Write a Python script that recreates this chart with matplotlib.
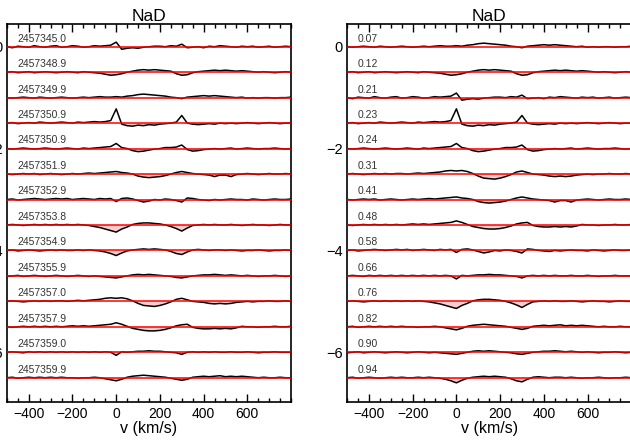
import numpy as np
import matplotlib
matplotlib.use("Agg")
import matplotlib.pyplot as plt
from matplotlib.ticker import MultipleLocator

plt.rcParams["font.family"] = ["Liberation Sans", "DejaVu Sans"]

# velocity grid (km/s), shared by every spectrum
velocity = list(range(-500, 801, 25))

# residual NaD profiles, one per night (0.5 apart in the figure)
s_345_0 = [0.00, -0.02, 0.01, 0.00, -0.01, 0.02, 0.00, -0.01, 0.01, 0.02,
           -0.01, 0.00, 0.02, 0.01, -0.01, 0.00, 0.02, 0.01, 0.02, 0.03,
           0.09, -0.05, -0.03, -0.02, -0.03, -0.01, 0.00, 0.01, 0.01, 0.00,
           0.02, 0.01, 0.05, -0.02, -0.01, 0.00, -0.02, 0.01, 0.00, 0.02,
           0.01, 0.00, -0.01, 0.01, 0.00, 0.01, -0.01, 0.00, 0.01, -0.01,
           0.00, 0.01, 0.00]
s_348_9 = [0.00, 0.01, -0.01, 0.00, 0.01, -0.01, 0.00, 0.01, 0.00, -0.01,
           0.00, 0.01, 0.00, -0.01, 0.01, 0.00, -0.01, -0.02, -0.04, -0.06,
           -0.05, -0.03, 0.00, 0.02, 0.04, 0.05, 0.04, 0.05, 0.04, 0.03,
           0.02, -0.03, -0.06, -0.05, -0.01, 0.01, 0.02, 0.03, 0.04, 0.03,
           0.04, 0.03, 0.02, 0.03, 0.02, 0.01, 0.00, 0.01, 0.00, -0.01,
           0.00, 0.01, 0.00]
s_349_9 = [0.00, -0.01, 0.00, 0.01, 0.00, -0.01, 0.01, 0.00, -0.01, 0.00,
           0.01, 0.00, -0.01, 0.00, 0.01, 0.00, 0.01, 0.02, 0.01, 0.01,
           0.02, 0.01, 0.03, 0.04, 0.06, 0.07, 0.06, 0.05, 0.04, 0.03,
           0.01, 0.00, -0.02, 0.01, 0.02, 0.03, 0.04, 0.03, 0.04, 0.03,
           0.02, 0.01, 0.00, 0.01, -0.01, 0.00, -0.01, 0.00, 0.00, -0.01,
           0.00, 0.00, 0.01]
s_350_9a = [0.00, 0.01, -0.01, 0.00, 0.01, 0.00, 0.02, 0.01, 0.00, 0.01,
            0.02, 0.01, 0.00, 0.02, 0.01, 0.02, 0.03, 0.02, 0.03, 0.05,
            0.28, -0.02, -0.05, -0.06, -0.04, -0.05, -0.03, -0.04, -0.02, -0.01,
            0.00, 0.02, 0.15, 0.00, -0.02, -0.03, -0.02, -0.01, -0.02, 0.00,
            -0.01, 0.00, -0.01, 0.00, 0.01, 0.00, -0.01, 0.00, 0.01, 0.00,
            -0.01, 0.00, 0.00]
s_350_9b = [0.00, -0.01, 0.00, 0.01, 0.00, -0.01, 0.00, 0.01, 0.00, -0.01,
            0.00, 0.01, 0.00, -0.01, 0.01, 0.00, 0.01, 0.02, 0.03, 0.04,
            0.10, 0.02, 0.00, -0.04, -0.06, -0.05, -0.03, -0.01, 0.00, 0.02,
            0.02, 0.03, 0.07, -0.02, -0.05, -0.04, -0.02, -0.01, 0.00, -0.01,
            0.00, 0.01, -0.01, 0.00, 0.01, 0.00, -0.01, 0.00, 0.00, 0.01,
            0.00, -0.01, 0.00]
s_351_9 = [0.00, -0.01, 0.00, 0.01, 0.00, 0.01, -0.01, 0.00, 0.01, 0.00,
           -0.01, 0.00, 0.01, 0.00, 0.01, 0.02, 0.01, 0.02, 0.03, 0.04,
           0.05, 0.03, 0.02, 0.00, -0.04, -0.06, -0.07, -0.06, -0.05, -0.03,
           0.00, 0.03, 0.05, 0.03, 0.01, 0.00, -0.01, -0.02, -0.05, -0.02,
           -0.02, -0.05, -0.01, 0.00, 0.01, 0.00, -0.01, 0.00, 0.01, 0.00,
           0.00, 0.01, 0.00]
s_352_9 = [0.00, 0.01, -0.01, 0.00, 0.01, 0.02, 0.01, 0.00, 0.01, 0.02,
           0.01, 0.02, 0.00, 0.01, 0.02, 0.01, 0.00, 0.02, 0.01, 0.02,
           -0.04, 0.02, 0.03, 0.01, -0.02, -0.05, -0.03, 0.00, -0.01, 0.01,
           0.00, -0.02, -0.05, 0.03, 0.02, 0.00, -0.01, -0.02, 0.00, -0.01,
           0.00, 0.01, 0.00, 0.00, -0.01, 0.01, 0.00, -0.01, 0.00, 0.01,
           0.00, 0.00, 0.01]
s_353_8 = [0.00, 0.01, 0.00, -0.01, 0.00, 0.01, 0.00, 0.01, 0.00, 0.01,
           0.00, 0.01, 0.00, 0.01, 0.00, -0.01, -0.03, -0.05, -0.08, -0.11,
           -0.14, -0.08, -0.04, 0.01, 0.03, 0.04, 0.04, 0.03, 0.02, 0.00,
           -0.03, -0.07, -0.12, -0.06, -0.01, 0.00, 0.01, 0.00, 0.01, 0.00,
           0.00, 0.01, 0.00, -0.01, 0.00, 0.01, 0.00, 0.00, -0.01, 0.00,
           0.01, 0.00, 0.00]
s_354_9 = [0.00, 0.01, -0.01, 0.00, 0.01, 0.00, -0.01, 0.00, 0.01, 0.00,
           0.01, 0.00, 0.00, 0.01, 0.00, 0.01, 0.00, -0.01, -0.03, -0.06,
           -0.10, -0.05, -0.01, 0.01, 0.02, 0.03, 0.02, 0.03, 0.02, 0.01,
           -0.02, -0.06, -0.08, -0.03, 0.01, 0.02, 0.01, 0.00, 0.01, 0.01,
           0.00, 0.01, 0.00, -0.01, 0.00, 0.00, 0.01, 0.00, -0.01, 0.00,
           0.00, 0.01, 0.00]
s_355_9 = [-0.01, 0.00, 0.01, -0.01, 0.00, 0.01, 0.00, -0.01, 0.00, 0.01,
           0.00, -0.01, 0.00, 0.01, 0.00, -0.01, 0.00, -0.01, -0.02, -0.03,
           -0.04, -0.02, 0.00, 0.02, 0.03, 0.02, 0.03, 0.02, 0.01, 0.00,
           -0.01, -0.03, -0.04, -0.02, 0.00, 0.01, 0.02, 0.02, 0.03, 0.02,
           0.01, 0.02, 0.01, 0.00, 0.01, 0.00, -0.01, 0.00, 0.00, 0.01,
           0.00, -0.01, 0.00]
s_357_0 = [0.00, 0.01, 0.00, -0.01, 0.00, 0.01, 0.00, 0.01, 0.00, 0.01,
           0.01, 0.00, 0.01, 0.02, 0.01, 0.02, 0.03, 0.04, 0.06, 0.07,
           0.06, 0.07, 0.05, 0.01, -0.04, -0.08, -0.09, -0.10, -0.08, -0.05,
           -0.01, 0.04, 0.06, 0.03, 0.00, -0.01, -0.02, -0.04, -0.05, -0.04,
           -0.05, -0.04, -0.02, -0.01, 0.00, -0.01, 0.00, 0.00, 0.01, 0.00,
           0.00, 0.01, 0.00]
s_357_9 = [0.00, -0.01, 0.00, 0.01, 0.00, 0.01, 0.00, 0.01, 0.00, 0.01,
           0.00, 0.01, 0.02, 0.01, 0.02, 0.01, 0.02, 0.03, 0.04, 0.05,
           0.08, 0.05, 0.01, -0.03, -0.05, -0.07, -0.08, -0.08, -0.07, -0.05,
           -0.02, 0.02, 0.04, 0.05, -0.01, -0.03, -0.04, -0.04, -0.03, -0.04,
           -0.03, -0.04, -0.02, 0.01, 0.00, 0.00, -0.01, 0.00, 0.00, 0.01,
           0.00, 0.00, 0.01]
s_359_0 = [0.00, 0.01, 0.00, -0.01, 0.01, 0.00, 0.01, 0.00, 0.01, 0.00,
           0.01, 0.00, 0.01, 0.00, 0.01, 0.00, 0.01, 0.00, 0.01, 0.00,
           -0.06, 0.01, 0.00, 0.01, 0.02, 0.02, 0.03, 0.02, 0.02, 0.01,
           0.00, -0.01, -0.04, 0.00, 0.01, 0.00, 0.01, 0.00, 0.01, 0.00,
           0.00, 0.01, 0.00, 0.00, 0.01, 0.00, -0.01, 0.00, 0.00, 0.01,
           0.00, 0.00, 0.00]
s_359_9 = [0.00, 0.01, -0.01, 0.00, 0.01, 0.00, 0.01, 0.00, 0.01, 0.00,
           0.01, 0.00, 0.00, -0.01, 0.00, 0.00, 0.01, 0.00, -0.02, -0.04,
           -0.06, -0.03, 0.01, 0.03, 0.04, 0.05, 0.04, 0.03, 0.02, 0.01,
           -0.01, -0.03, -0.05, -0.03, 0.01, 0.02, 0.03, 0.02, 0.03, 0.04,
           0.02, 0.03, 0.02, 0.03, 0.02, 0.01, 0.00, 0.01, 0.00, 0.00,
           0.01, 0.00, 0.00]

spectra = [s_345_0, s_348_9, s_349_9, s_350_9a, s_350_9b, s_351_9, s_352_9,
           s_353_8, s_354_9, s_355_9, s_357_0, s_357_9, s_359_0, s_359_9]

dates = ["2457345.0", "2457348.9", "2457349.9", "2457350.9", "2457350.9",
         "2457351.9", "2457352.9", "2457353.8", "2457354.9", "2457355.9",
         "2457357.0", "2457357.9", "2457359.0", "2457359.9"]

# right panel: same spectra sorted by phase
phase_order = [2, 1, 0, 3, 4, 10, 5, 11, 6, 12, 7, 13, 9, 8]
phases = ["0.07", "0.12", "0.21", "0.23", "0.24", "0.31", "0.41", "0.48",
          "0.58", "0.66", "0.76", "0.82", "0.90", "0.94"]

step = 0.5

fig = plt.figure(figsize=(6.3, 4.41), dpi=100)
ax1 = fig.add_axes([0.011, 0.088, 0.451, 0.858])
ax2 = fig.add_axes([0.551, 0.088, 0.451, 0.858])

v = np.array(velocity)


def draw(ax, order, labels):
    for k, (idx, lab) in enumerate(zip(order, labels)):
        off = -step * k
        y = off + np.array(spectra[idx])
        ax.fill_between(v, off, y, where=y < off, interpolate=True,
                        color="#ffcaca", lw=0, zorder=1)
        ax.plot(v, y, color="black", lw=1.1, zorder=2)
        ax.axhline(off, color="red", lw=1.1, zorder=3)
        ax.text(-452, off + 0.16, lab, fontsize=7.5, color="#333333",
                va="center", ha="left", zorder=4)
    ax.set_xlim(-500, 800)
    ax.set_ylim(-6.98, 0.45)
    ax.set_title("NaD", fontsize=12.5, pad=2)
    ax.set_xlabel("v (km/s)", fontsize=11.5, labelpad=0)
    ax.set_xticks([-400, -200, 0, 200, 400, 600])
    ax.xaxis.set_minor_locator(MultipleLocator(50))
    ax.set_yticks([0, -2, -4, -6])
    ax.tick_params(axis="x", which="both", direction="in", top=True,
                   labelsize=10)
    ax.tick_params(axis="x", which="major", length=6, width=1)
    ax.tick_params(axis="x", which="minor", length=3, width=1)
    ax.tick_params(axis="y", length=0, labelsize=10.5, pad=3)
    for sp in ax.spines.values():
        sp.set_linewidth(1.2)


draw(ax1, list(range(len(dates))), dates)
draw(ax2, phase_order, phases)

fig.savefig("out.png", dpi=100)
